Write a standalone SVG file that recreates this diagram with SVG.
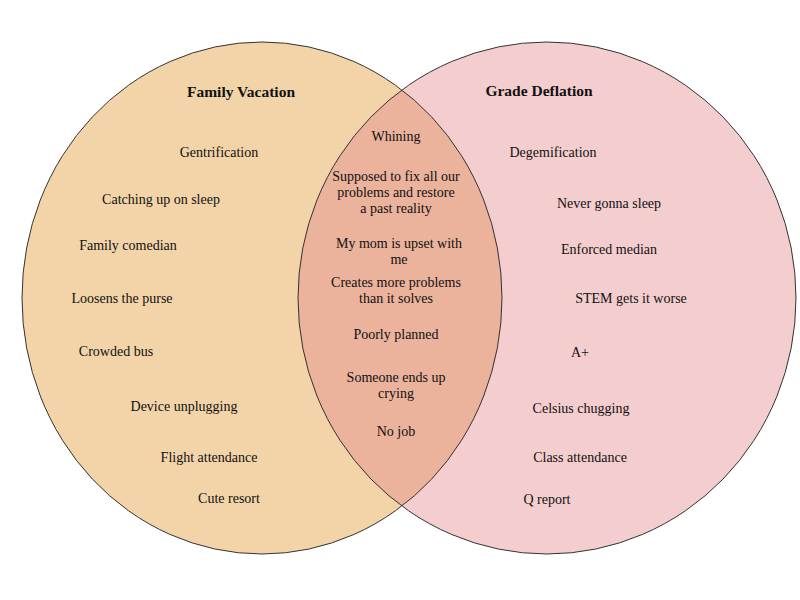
<svg xmlns="http://www.w3.org/2000/svg" width="800" height="600" viewBox="0 0 800 600">
<style>
text{font-family:"Liberation Serif","DejaVu Serif",serif;font-size:14px;fill:#111;text-anchor:middle}
.t{font-weight:bold;font-size:15.5px}
.o{fill:none;stroke:#333;stroke-width:1}
</style>
<defs><clipPath id="cl"><ellipse cx="262" cy="298" rx="240" ry="256"/></clipPath></defs>
<rect width="800" height="600" fill="#fff"/>
<g id="left-set"><ellipse cx="262" cy="298" rx="240" ry="256" fill="#F2D4A8"/></g>
<g id="right-set"><ellipse cx="547" cy="298" rx="249" ry="256" fill="#F4CDCF"/></g>
<g id="overlap"><ellipse cx="547" cy="298" rx="249" ry="256" fill="#EBB29C" clip-path="url(#cl)"/></g>
<g id="outlines"><ellipse class="o" cx="262" cy="298" rx="240" ry="256"/><ellipse class="o" cx="547" cy="298" rx="249" ry="256"/></g>
<g id="left-text">
<text class="t" x="241" y="97">Family Vacation</text>
<text x="219" y="157">Gentrification</text>
<text x="161" y="204">Catching up on sleep</text>
<text x="128" y="250">Family comedian</text>
<text x="122" y="303">Loosens the purse</text>
<text x="116" y="356">Crowded bus</text>
<text x="184" y="411">Device unplugging</text>
<text x="209" y="462">Flight attendance</text>
<text x="229" y="503">Cute resort</text>
</g>
<g id="right-text">
<text class="t" x="539" y="96">Grade Deflation</text>
<text x="553" y="157">Degemification</text>
<text x="609" y="208">Never gonna sleep</text>
<text x="609" y="254">Enforced median</text>
<text x="631" y="303">STEM gets it worse</text>
<text x="580" y="357">A+</text>
<text x="581" y="413">Celsius chugging</text>
<text x="580" y="462">Class attendance</text>
<text x="547" y="504">Q report</text>
</g>
<g id="overlap-text">
<text x="396" y="141">Whining</text>
<text x="396" y="181">Supposed to fix all our</text>
<text x="396" y="197">problems and restore</text>
<text x="396" y="213">a past reality</text>
<text x="399" y="248">My mom is upset with</text>
<text x="399" y="264">me</text>
<text x="396" y="287">Creates more problems</text>
<text x="396" y="303">than it solves</text>
<text x="396" y="339">Poorly planned</text>
<text x="396" y="382">Someone ends up</text>
<text x="396" y="398">crying</text>
<text x="396" y="436">No job</text>
</g>
</svg>
